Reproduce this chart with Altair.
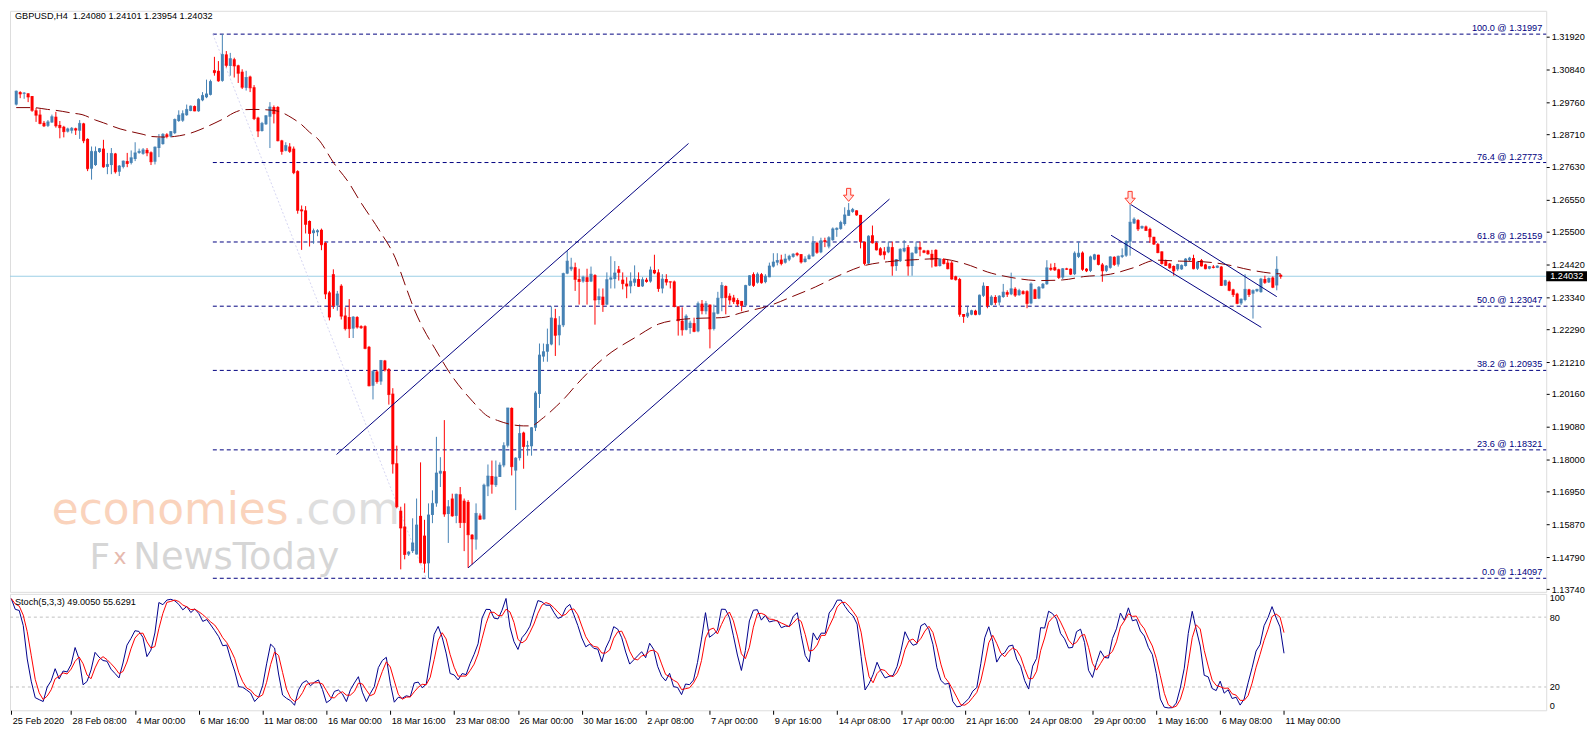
import altair as alt
import pandas as pd

# ---------------- candle data (GBPUSD H4) ----------------
OPEN = [
1.2968,1.3009,1.3004,1.3005,1.2996,1.2949,1.2935,1.2908,1.2898,1.2909,
1.2928,1.2901,1.2895,1.2879,1.2882,1.2890,1.2882,1.2906,1.2855,1.2757,
1.2769,1.2812,1.2823,1.2763,1.2769,1.2807,1.2747,1.2763,1.2782,1.2776,
1.2789,1.2809,1.2806,1.2819,1.2811,1.2780,1.2825,1.2838,1.2870,1.2863,
1.2874,1.2914,1.2915,1.2933,1.2947,1.2963,1.2946,1.2982,1.2992,1.3000,
1.3081,1.3079,1.3046,1.3133,1.3095,1.3117,1.3097,1.3076,1.3023,1.3060,
1.3025,1.2925,1.2881,1.2903,1.2928,1.2960,1.2960,1.2850,1.2816,1.2830,
1.2823,1.2749,1.2623,1.2620,1.2585,1.2545,1.2548,1.2556,1.2513,1.2350,
1.2410,1.2307,1.2372,1.2274,1.2269,1.2231,1.2269,1.2239,1.2239,1.2171,
1.2043,1.2090,1.2057,1.2126,1.2098,1.2017,1.1788,1.1632,1.1580,1.1488,
1.1499,1.1488,1.1615,1.1550,1.1459,1.1618,1.1656,1.1754,1.1762,1.1621,
1.1672,1.1615,1.1686,1.1665,1.1661,1.1553,1.1537,1.1616,1.1604,1.1712,
1.1746,1.1716,1.1743,1.1781,1.1846,1.1970,1.1764,1.1805,1.1889,1.1843,
1.1844,1.1905,1.2016,1.2139,1.2155,1.2179,1.2265,1.2209,1.2242,1.2412,
1.2426,1.2433,1.2394,1.2386,1.2400,1.2386,1.2407,1.2325,1.2336,1.2310,
1.2392,1.2394,1.2426,1.2392,1.2379,1.2370,1.2382,1.2394,1.2370,1.2392,
1.2386,1.2424,1.2416,1.2363,1.2394,1.2386,1.2386,1.2304,1.2257,1.2227,
1.2233,1.2249,1.2222,1.2313,1.2288,1.2310,1.2230,1.2280,1.2331,1.2371,
1.2339,1.2333,1.2325,1.2322,1.2307,1.2373,1.2410,1.2382,1.2410,1.2384,
1.2400,1.2435,1.2448,1.2458,1.2448,1.2458,1.2467,1.2479,1.2476,1.2450,
1.2460,1.2469,1.2513,1.2482,1.2522,1.2501,1.2522,1.2556,1.2559,1.2575,
1.2602,1.2615,1.2620,1.2605,1.2517,1.2445,1.2538,1.2513,1.2495,1.2485,
1.2482,1.2499,1.2437,1.2453,1.2485,1.2499,1.2437,1.2479,1.2499,1.2488,
1.2488,1.2477,1.2490,1.2437,1.2460,1.2448,1.2448,1.2403,1.2394,1.2279,
1.2271,1.2277,1.2290,1.2277,1.2339,1.2371,1.2309,1.2335,1.2317,1.2335,
1.2351,1.2344,1.2362,1.2341,1.2354,1.2354,1.2314,1.2360,1.2330,1.2364,
1.2377,1.2431,1.2433,1.2426,1.2399,1.2429,1.2428,1.2410,1.2467,1.2481,
1.2428,1.2421,1.2458,1.2474,1.2442,1.2421,1.2431,1.2467,1.2442,1.2467,
1.2471,1.2517,1.2577,1.2588,1.2561,1.2567,1.2559,1.2533,1.2509,1.2485,
1.2453,1.2445,1.2437,1.2426,1.2426,1.2437,1.2456,1.2463,1.2428,1.2456,
1.2442,1.2428,1.2435,1.2431,1.2435,1.2373,1.2385,1.2360,1.2346,1.2314,
1.2325,1.2360,1.2346,1.2354,1.2351,1.2394,1.2383,1.2399,1.2373,1.2408]
HIGH = [
1.3014,1.3012,1.3009,1.3005,1.2996,1.2957,1.2952,1.2914,1.2917,1.2935,
1.2944,1.2914,1.2898,1.2892,1.2894,1.2892,1.2917,1.2908,1.2857,1.2830,
1.2830,1.2825,1.2852,1.2809,1.2825,1.2809,1.2769,1.2784,1.2809,1.2817,
1.2844,1.2823,1.2825,1.2825,1.2814,1.2830,1.2871,1.2874,1.2874,1.2881,
1.2922,1.2949,1.2949,1.2968,1.2965,1.2965,1.2989,1.3009,1.3050,1.3050,
1.3125,1.3111,1.3200,1.3144,1.3138,1.3122,1.3099,1.3084,1.3079,1.3063,
1.3032,1.2928,1.2911,1.2933,1.2976,1.2965,1.2963,1.2852,1.2844,1.2841,
1.2830,1.2752,1.2636,1.2634,1.2587,1.2560,1.2558,1.2560,1.2516,1.2355,
1.2426,1.2355,1.2377,1.2301,1.2328,1.2272,1.2272,1.2242,1.2242,1.2174,
1.2095,1.2095,1.2128,1.2128,1.2101,1.2035,1.1846,1.1645,1.1656,1.1499,
1.1607,1.1672,1.1791,1.1602,1.1656,1.1699,1.1875,1.1808,1.1930,1.1667,
1.1688,1.1688,1.1710,1.1672,1.1667,1.1555,1.1656,1.1623,1.1721,1.1784,
1.1797,1.1797,1.1791,1.1857,1.1970,1.1972,1.1808,1.1916,1.1892,1.1862,
1.1907,1.2025,1.2182,1.2182,1.2231,1.2304,1.2296,1.2272,1.2415,1.2486,
1.2464,1.2448,1.2428,1.2405,1.2428,1.2435,1.2410,1.2363,1.2363,1.2416,
1.2469,1.2453,1.2437,1.2416,1.2400,1.2416,1.2439,1.2416,1.2400,1.2398,
1.2435,1.2474,1.2426,1.2410,1.2410,1.2386,1.2389,1.2304,1.2301,1.2278,
1.2257,1.2267,1.2320,1.2325,1.2322,1.2310,1.2310,1.2352,1.2384,1.2373,
1.2347,1.2342,1.2331,1.2322,1.2375,1.2407,1.2416,1.2416,1.2414,1.2410,
1.2448,1.2479,1.2479,1.2474,1.2477,1.2474,1.2479,1.2482,1.2476,1.2469,
1.2477,1.2535,1.2517,1.2530,1.2530,1.2535,1.2564,1.2564,1.2586,1.2630,
1.2644,1.2628,1.2620,1.2605,1.2517,1.2538,1.2570,1.2517,1.2499,1.2499,
1.2517,1.2517,1.2460,1.2495,1.2522,1.2506,1.2482,1.2517,1.2517,1.2490,
1.2490,1.2490,1.2492,1.2463,1.2463,1.2458,1.2453,1.2405,1.2398,1.2279,
1.2303,1.2293,1.2293,1.2343,1.2383,1.2371,1.2341,1.2341,1.2341,1.2378,
1.2357,1.2415,1.2367,1.2362,1.2357,1.2357,1.2383,1.2362,1.2371,1.2381,
1.2456,1.2445,1.2447,1.2428,1.2430,1.2431,1.2429,1.2485,1.2517,1.2485,
1.2430,1.2471,1.2477,1.2474,1.2447,1.2440,1.2469,1.2469,1.2471,1.2495,
1.2522,1.2639,1.2597,1.2591,1.2570,1.2570,1.2563,1.2533,1.2513,1.2485,
1.2458,1.2447,1.2439,1.2444,1.2442,1.2463,1.2467,1.2474,1.2453,1.2460,
1.2444,1.2437,1.2440,1.2439,1.2437,1.2392,1.2389,1.2362,1.2349,1.2330,
1.2410,1.2362,1.2360,1.2362,1.2398,1.2405,1.2399,1.2403,1.2469,1.2410]
LOW = [
1.2965,1.2989,1.2987,1.2976,1.2944,1.2911,1.2903,1.2894,1.2894,1.2908,
1.2892,1.2857,1.2860,1.2876,1.2873,1.2868,1.2855,1.2841,1.2749,1.2721,
1.2766,1.2809,1.2760,1.2739,1.2739,1.2741,1.2733,1.2758,1.2762,1.2771,
1.2782,1.2806,1.2803,1.2798,1.2769,1.2771,1.2795,1.2836,1.2857,1.2860,
1.2871,1.2911,1.2911,1.2931,1.2946,1.2946,1.2944,1.2979,1.2989,1.2998,
1.3063,1.3043,1.3043,1.3090,1.3063,1.3057,1.3039,1.3019,1.3014,1.3009,
1.2917,1.2861,1.2879,1.2901,1.2825,1.2906,1.2847,1.2803,1.2814,1.2809,
1.2739,1.2609,1.2490,1.2544,1.2501,1.2510,1.2535,1.2489,1.2328,1.2258,
1.2296,1.2290,1.2261,1.2225,1.2200,1.2200,1.2231,1.2230,1.2163,1.2041,
1.1998,1.2050,1.2046,1.2090,1.1981,1.1754,1.1640,1.1439,1.1472,1.1483,
1.1493,1.1488,1.1459,1.1428,1.1410,1.1591,1.1645,1.1710,1.1612,1.1526,
1.1612,1.1591,1.1575,1.1499,1.1444,1.1455,1.1504,1.1602,1.1602,1.1680,
1.1688,1.1710,1.1743,1.1775,1.1840,1.1748,1.1634,1.1797,1.1770,1.1813,
1.1813,1.1894,1.1970,1.2122,1.2122,1.2176,1.2141,1.2176,1.2236,1.2410,
1.2420,1.2355,1.2310,1.2382,1.2310,1.2384,1.2244,1.2310,1.2286,1.2308,
1.2363,1.2363,1.2389,1.2360,1.2331,1.2347,1.2371,1.2368,1.2368,1.2382,
1.2382,1.2410,1.2352,1.2347,1.2373,1.2363,1.2301,1.2208,1.2208,1.2225,
1.2214,1.2219,1.2219,1.2278,1.2278,1.2166,1.2225,1.2278,1.2288,1.2278,
1.2310,1.2312,1.2304,1.2288,1.2304,1.2371,1.2368,1.2379,1.2379,1.2380,
1.2400,1.2432,1.2439,1.2439,1.2445,1.2453,1.2464,1.2469,1.2445,1.2448,
1.2458,1.2467,1.2477,1.2479,1.2499,1.2495,1.2520,1.2533,1.2556,1.2570,
1.2602,1.2612,1.2602,1.2495,1.2439,1.2442,1.2511,1.2488,1.2471,1.2458,
1.2479,1.2405,1.2421,1.2450,1.2482,1.2405,1.2405,1.2477,1.2469,1.2479,
1.2474,1.2432,1.2435,1.2435,1.2442,1.2426,1.2392,1.2389,1.2270,1.2250,
1.2266,1.2275,1.2275,1.2275,1.2335,1.2298,1.2307,1.2309,1.2307,1.2332,
1.2335,1.2341,1.2335,1.2339,1.2343,1.2298,1.2311,1.2328,1.2328,1.2362,
1.2375,1.2421,1.2421,1.2394,1.2394,1.2424,1.2407,1.2407,1.2463,1.2421,
1.2417,1.2417,1.2456,1.2439,1.2385,1.2417,1.2428,1.2437,1.2435,1.2463,
1.2467,1.2471,1.2575,1.2552,1.2559,1.2552,1.2513,1.2506,1.2479,1.2442,
1.2437,1.2428,1.2405,1.2421,1.2424,1.2435,1.2453,1.2426,1.2424,1.2435,
1.2426,1.2426,1.2429,1.2430,1.2371,1.2371,1.2354,1.2335,1.2311,1.2309,
1.2321,1.2335,1.2264,1.2351,1.2349,1.2378,1.2381,1.2364,1.2357,1.2395]
CLOSE = [
1.3012,1.3003,1.3006,1.2993,1.2949,1.2933,1.2906,1.2898,1.2911,1.2928,
1.2898,1.2892,1.2879,1.2888,1.2890,1.2884,1.2906,1.2849,1.2757,1.2814,
1.2814,1.2823,1.2763,1.2771,1.2807,1.2747,1.2766,1.2782,1.2774,1.2793,
1.2809,1.2814,1.2819,1.2809,1.2780,1.2828,1.2857,1.2870,1.2863,1.2879,
1.2919,1.2933,1.2938,1.2952,1.2963,1.2947,1.2985,1.2998,1.3003,1.3044,
1.3073,1.3046,1.3133,1.3097,1.3119,1.3095,1.3071,1.3025,1.3057,1.3023,
1.2922,1.2881,1.2906,1.2931,1.2960,1.2938,1.2849,1.2814,1.2833,1.2814,
1.2744,1.2620,1.2618,1.2574,1.2544,1.2553,1.2553,1.2507,1.2345,1.2269,
1.2307,1.2345,1.2272,1.2231,1.2231,1.2269,1.2236,1.2234,1.2166,1.2043,
1.2090,1.2057,1.2126,1.2095,1.2014,1.1786,1.1645,1.1575,1.1488,1.1496,
1.1526,1.1585,1.1461,1.1459,1.1618,1.1656,1.1756,1.1762,1.1621,1.1645,
1.1615,1.1686,1.1593,1.1593,1.1553,1.1539,1.1623,1.1604,1.1716,1.1746,
1.1719,1.1743,1.1782,1.1846,1.1970,1.1777,1.1805,1.1886,1.1843,1.1846,
1.1905,1.2019,1.2144,1.2155,1.2179,1.2266,1.2209,1.2242,1.2412,1.2453,
1.2433,1.2393,1.2386,1.2400,1.2386,1.2410,1.2325,1.2336,1.2310,1.2392,
1.2398,1.2414,1.2416,1.2379,1.2371,1.2387,1.2394,1.2370,1.2392,1.2386,
1.2424,1.2414,1.2363,1.2394,1.2384,1.2384,1.2304,1.2257,1.2227,1.2272,
1.2249,1.2222,1.2313,1.2290,1.2313,1.2230,1.2283,1.2331,1.2373,1.2333,
1.2325,1.2320,1.2312,1.2307,1.2373,1.2405,1.2373,1.2410,1.2382,1.2403,
1.2437,1.2450,1.2455,1.2445,1.2460,1.2469,1.2476,1.2474,1.2450,1.2460,
1.2471,1.2513,1.2482,1.2520,1.2517,1.2530,1.2559,1.2561,1.2580,1.2605,
1.2620,1.2623,1.2605,1.2517,1.2445,1.2535,1.2513,1.2490,1.2474,1.2474,
1.2499,1.2437,1.2458,1.2492,1.2495,1.2437,1.2479,1.2499,1.2492,1.2482,
1.2477,1.2458,1.2437,1.2460,1.2445,1.2428,1.2394,1.2392,1.2278,1.2271,
1.2282,1.2290,1.2277,1.2341,1.2371,1.2307,1.2335,1.2317,1.2338,1.2351,
1.2344,1.2362,1.2341,1.2356,1.2346,1.2314,1.2378,1.2330,1.2367,1.2377,
1.2431,1.2426,1.2424,1.2399,1.2428,1.2426,1.2410,1.2479,1.2479,1.2426,
1.2421,1.2467,1.2474,1.2442,1.2421,1.2437,1.2467,1.2442,1.2469,1.2471,
1.2517,1.2581,1.2591,1.2559,1.2567,1.2554,1.2533,1.2509,1.2481,1.2445,
1.2439,1.2431,1.2421,1.2442,1.2439,1.2460,1.2463,1.2428,1.2450,1.2437,
1.2428,1.2435,1.2432,1.2437,1.2373,1.2389,1.2357,1.2343,1.2314,1.2328,
1.2360,1.2343,1.2356,1.2360,1.2394,1.2383,1.2396,1.2367,1.2426,1.2403]

# moving average (dashed maroon line), read at sample bars
MA_BARS = [0, 4.2, 7.9, 10, 14.1, 16.6, 20, 22, 26.2, 28.3, 32, 34.1, 37.8, 39.9, 44, 46.1,
           49.9, 52.4, 54.9, 57.4, 59.9, 64, 66.1, 69.8, 71.9, 74, 76.1, 80.2, 84, 86.5, 91.5,
           95.6, 98.5, 100.2, 102.7, 105.6, 109.7, 115.1, 118.9, 121.4, 124.7, 128, 129.7,
           133, 136.3, 138.4, 141.3, 148.8, 156.3, 162.1, 167.1, 172.1, 177.9, 183.7, 189.9,
           195.7, 201.6, 207.8, 213.6, 219.8, 227.3, 232.7, 238.6, 246.1, 251.1, 258.1, 263.9,
           269.3, 276, 281.8, 287.6, 293.5, 299.3, 305.1, 311.3, 317.6, 319]
MA_VALUES = [1.2958, 1.2958, 1.2952, 1.2949, 1.2940, 1.2935, 1.2917, 1.2908, 1.2888, 1.2881,
             1.2870, 1.2863, 1.2861, 1.2863, 1.2874, 1.2884, 1.2906, 1.2922, 1.2941, 1.2951,
             1.2952, 1.2950, 1.2946, 1.2922, 1.2903, 1.2877, 1.2855, 1.2774, 1.2709, 1.2655,
             1.2556, 1.2464, 1.2361, 1.2301, 1.2231, 1.2166, 1.2079, 1.1992, 1.1943, 1.1929,
             1.1916, 1.1911, 1.1911, 1.1938, 1.1976, 1.2003, 1.2046, 1.2140, 1.2203, 1.2246,
             1.2260, 1.2265, 1.2267, 1.2286, 1.2306, 1.2336, 1.2368, 1.2407, 1.2437, 1.2451,
             1.2458, 1.2461, 1.2447, 1.2413, 1.2399, 1.2389, 1.2391, 1.2402, 1.2410, 1.2431,
             1.2456, 1.2453, 1.2451, 1.2442, 1.2424, 1.2412, 1.2411]

# Fibonacci retracement
FIB_PCT = [100.0, 76.4, 61.8, 50.0, 38.2, 23.6, 0.0]
FIB_PRICE = [1.31997, 1.27773, 1.25159, 1.23047, 1.20935, 1.18321, 1.14097]
FIB_ANCHOR_BARS = [49.6, 103.4]
FIB_ANCHOR_PRICES = [1.31997, 1.14097]

# trend lines (two anchor points each)
LINE_NAMES = ["up_upper", "up_lower", "down_upper", "down_lower"]
LINE_BARS = [[80.8, 169.6], [114, 220.3], [281.2, 318], [276.2, 314.1]]
LINE_PRICES = [[1.1817, 1.2840], [1.1444, 1.2657], [1.2639, 1.2336], [1.2538, 1.2235]]

# arrows
ARROW_BARS = [210, 281]
ARROW_PRICES = [1.2671, 1.2661]

LAST_PRICE = 1.24032
SYMBOL = "GBPUSD,H4"
LAST_OHLC = ["1.24080", "1.24101", "1.23954", "1.24032"]
STOCH_NAME = "Stoch(5,3,3)"
STOCH_READOUT = ["49.0050", "55.6291"]

PRICE_TICKS = [1.31920, 1.30840, 1.29760, 1.28710, 1.27630, 1.26550, 1.25500, 1.24420,
               1.23340, 1.22290, 1.21210, 1.20160, 1.19080, 1.18000, 1.16950, 1.15870,
               1.14790, 1.13740]
LABEL_BARS = [0, 15, 31, 47, 63, 79, 95, 111, 127, 143, 159, 175, 191, 207, 223, 239, 255,
              271, 287, 303, 319]
LABEL_TEXT = ["25 Feb 2020", "28 Feb 08:00", "4 Mar 00:00", "6 Mar 16:00", "11 Mar 08:00",
              "16 Mar 00:00", "18 Mar 16:00", "23 Mar 08:00", "26 Mar 00:00", "30 Mar 16:00",
              "2 Apr 08:00", "7 Apr 00:00", "9 Apr 16:00", "14 Apr 08:00", "17 Apr 00:00",
              "21 Apr 16:00", "24 Apr 08:00", "29 Apr 00:00", "1 May 16:00", "6 May 08:00",
              "11 May 00:00"]
STOCH_LEVELS = [20, 80]
STOCH_TICKS = [0, 20, 80, 100]

# ---------------- layout / style ----------------
FONT = "Liberation Sans"
FS = 9.2
W = 1544
H_MAIN = 584
H_STOCH = 117
PX_PER_BAR = 4.01
X_DOMAIN = [-0.32, -0.32 + W / PX_PER_BAR]
Y_DOMAIN = [1.13650, 1.32764]
BLUE = "#4682B4"
RED = "#FF0000"
NAVY = "#000080"

# ---------------- frames ----------------
n = len(CLOSE)
candles = pd.DataFrame({"bar": list(range(n)), "open": OPEN, "high": HIGH,
                        "low": LOW, "close": CLOSE})
candles["dir"] = ["up" if c >= o else "down" for o, c in zip(OPEN, CLOSE)]

hh = candles["high"].rolling(5, min_periods=1).max()
ll = candles["low"].rolling(5, min_periods=1).min()
num = (candles["close"] - ll).rolling(3, min_periods=1).sum()
den = (hh - ll).rolling(3, min_periods=1).sum()
stoch = pd.DataFrame({"bar": candles["bar"]})
stoch["main"] = 100 * num / den
stoch["signal"] = stoch["main"].rolling(3, min_periods=1).mean()

ma = pd.DataFrame({"bar": MA_BARS, "price": MA_VALUES})
fib = pd.DataFrame({"start": [FIB_ANCHOR_BARS[0]] * len(FIB_PRICE), "price": FIB_PRICE,
                    "label": [f"{p:.1f} @ {v:.5f}" for p, v in zip(FIB_PCT, FIB_PRICE)]})
fib_diag = pd.DataFrame({"bar": FIB_ANCHOR_BARS, "price": FIB_ANCHOR_PRICES})
lines = pd.DataFrame([{"line": nm, "bar": b, "price": p}
                      for nm, bs, ps in zip(LINE_NAMES, LINE_BARS, LINE_PRICES)
                      for b, p in zip(bs, ps)])
arrows = pd.DataFrame({"bar": ARROW_BARS, "price": ARROW_PRICES})
last = pd.DataFrame({"p": [LAST_PRICE], "t": [f"{LAST_PRICE:.5f}"]})

xs = alt.Scale(domain=X_DOMAIN, nice=False, zero=False)
ys = alt.Scale(domain=Y_DOMAIN, nice=False, zero=False)
yax = alt.Axis(orient="right", values=PRICE_TICKS, format=".5f", tickSize=3,
               tickColor="black", labelPadding=2, grid=False, domain=False, title=None,
               labelColor="black", labelFontSize=FS, labelFont=FONT, labelOverlap=False,
               labelFlush=False, labelBound=False)


def X(f):
    return alt.X(f, type="quantitative", scale=xs, axis=None)


def Y(f):
    return alt.Y(f, type="quantitative", scale=ys, axis=yax)


def txt(s):
    return alt.Chart(pd.DataFrame({"t": [s]}))


dir_color = alt.Color("dir:N", scale=alt.Scale(domain=["up", "down"], range=[BLUE, RED]),
                      legend=None)

wm = [
    txt("economies").mark_text(align="left", baseline="alphabetic", font="DejaVu Sans",
                               fontSize=44, color="#FAD3BC").encode(
        x=alt.value(42), y=alt.value(516), text="t:N"),
    txt(".com").mark_text(align="left", baseline="alphabetic", font="DejaVu Sans",
                          fontSize=44, color="#DEDEDE").encode(
        x=alt.value(284), y=alt.value(516), text="t:N"),
    txt("F").mark_text(align="left", baseline="alphabetic", font="DejaVu Sans",
                       fontSize=36, color="#D6D6D6").encode(
        x=alt.value(80), y=alt.value(561), text="t:N"),
    txt("x").mark_text(align="left", baseline="alphabetic", font="DejaVu Sans",
                       fontSize=22, color="#E6B9AE").encode(
        x=alt.value(104), y=alt.value(556), text="t:N"),
    txt("NewsToday").mark_text(align="left", baseline="alphabetic", font="DejaVu Sans",
                               fontSize=37, color="#D6D6D6").encode(
        x=alt.value(124), y=alt.value(561), text="t:N"),
]

price_line = alt.Chart(last).mark_rule(color="#9CCFE6", strokeWidth=1).encode(
    y=Y("p"), x=alt.value(0), x2=alt.value(W))
fib_rules = alt.Chart(fib).mark_rule(color=NAVY, strokeWidth=1, strokeDash=[4, 3]).encode(
    x=X("start"), x2=alt.value(W), y=Y("price"))
fib_text = alt.Chart(fib).mark_text(align="right", baseline="bottom", dy=-1, color=NAVY,
                                    fontSize=FS, font=FONT).encode(
    x=alt.value(W - 4), y=Y("price"), text="label:N")
fib_line = alt.Chart(fib_diag).mark_line(color="#D6D6F2", strokeWidth=1,
                                         strokeDash=[2, 2]).encode(x=X("bar"), y=Y("price"))

wicks = alt.Chart(candles).mark_rule(strokeWidth=1).encode(
    x=X("bar"), y=Y("low"), y2="high:Q", color=dir_color)
bodies = alt.Chart(candles).mark_bar(size=3).encode(
    x=X("bar"), y=Y("open"), y2="close:Q", color=dir_color)
doji = alt.Chart(candles).mark_tick(orient="horizontal", size=3, thickness=1).encode(
    x=X("bar"), y=Y("close"), color=dir_color)

ma_line = alt.Chart(ma).mark_line(color="#800000", strokeWidth=1, strokeDash=[14, 6],
                                  interpolate="monotone").encode(x=X("bar"), y=Y("price"))
trend = alt.Chart(lines).mark_line(color=NAVY, strokeWidth=1).encode(
    x=X("bar"), y=Y("price"), detail="line:N")

ARROW = "M-0.32,-1 L0.32,-1 L0.32,0.05 L0.8,0.05 L0,1 L-0.8,0.05 L-0.32,0.05 Z"
arrow_marks = alt.Chart(arrows).mark_point(shape=ARROW, size=170, filled=True,
                                           fill="#FFE2E2", stroke="#FF3A2A",
                                           strokeWidth=1, opacity=1).encode(
    x=X("bar"), y=Y("price"))

title = txt(SYMBOL + "\u00a0\u00a0" + " ".join(LAST_OHLC)).mark_text(
    align="left", baseline="top", fontSize=FS, font=FONT, color="black").encode(
    x=alt.value(5), y=alt.value(1), text="t:N")

box = alt.Chart(last).mark_tick(orient="horizontal", size=41, thickness=10,
                                color="black", opacity=1).encode(
    x=alt.value(W + 20.5), y=Y("p"))
box_text = alt.Chart(last).mark_text(align="left", baseline="middle", color="white",
                                     fontSize=FS, font=FONT).encode(
    x=alt.value(W + 4), y=Y("p"), text="t:N")

main = alt.layer(*wm, price_line, fib_rules, fib_text, fib_line, wicks, bodies, doji,
                 ma_line, trend, arrow_marks, title, box, box_text).properties(
    width=W, height=H_MAIN)

# ---------------- stochastic panel ----------------
label_expr = ("[" + ",".join(f"'{t}'" for t in LABEL_TEXT) + "][indexof(["
              + ",".join(str(b) for b in LABEL_BARS) + "], datum.value)]")
xax = alt.Axis(orient="bottom", values=LABEL_BARS, labelExpr=label_expr, labelAlign="left",
               labelBaseline="top", labelPadding=2, labelOffset=1, tickSize=4,
               tickColor="black", domain=False, grid=False, title=None, labelOverlap=False,
               labelBound=False, labelFlush=False, labelFontSize=FS, labelFont=FONT,
               labelColor="black")
ys2 = alt.Scale(domain=[0, 100], nice=False, zero=False)
yax2 = alt.Axis(orient="right", values=STOCH_TICKS, ticks=False, labelPadding=3, grid=False,
                domain=False, title=None, labelFlush=True, labelFontSize=FS, labelFont=FONT,
                labelColor="black")


def SX(f):
    return alt.X(f, type="quantitative", scale=xs, axis=xax)


def SY(f):
    return alt.Y(f, type="quantitative", scale=ys2, axis=yax2)


levels = alt.Chart(pd.DataFrame({"lv": STOCH_LEVELS})).mark_rule(
    color="#C0C0C0", strokeWidth=1, strokeDash=[3, 3]).encode(
    y=SY("lv"), x=alt.value(0), x2=alt.value(W))
s_main = alt.Chart(stoch).mark_line(color="#00008B", strokeWidth=1).encode(
    x=SX("bar"), y=SY("main"))
s_sig = alt.Chart(stoch).mark_line(color="#FF0000", strokeWidth=1).encode(
    x=SX("bar"), y=SY("signal"))
s_label = txt(STOCH_NAME + " " + " ".join(STOCH_READOUT)).mark_text(
    align="left", baseline="middle", fontSize=FS, font=FONT, color="black").encode(
    x=alt.value(5), y=alt.value(8), text="t:N")

stoch_chart = alt.layer(levels, s_main, s_sig, s_label).properties(width=W, height=H_STOCH)

chart = alt.vconcat(main, stoch_chart, spacing=2, bounds="flush", padding=0).configure_view(
    stroke="black", strokeWidth=1).configure(background="white")

chart.save("out.html", embed_options={"renderer": "svg", "actions": False})
